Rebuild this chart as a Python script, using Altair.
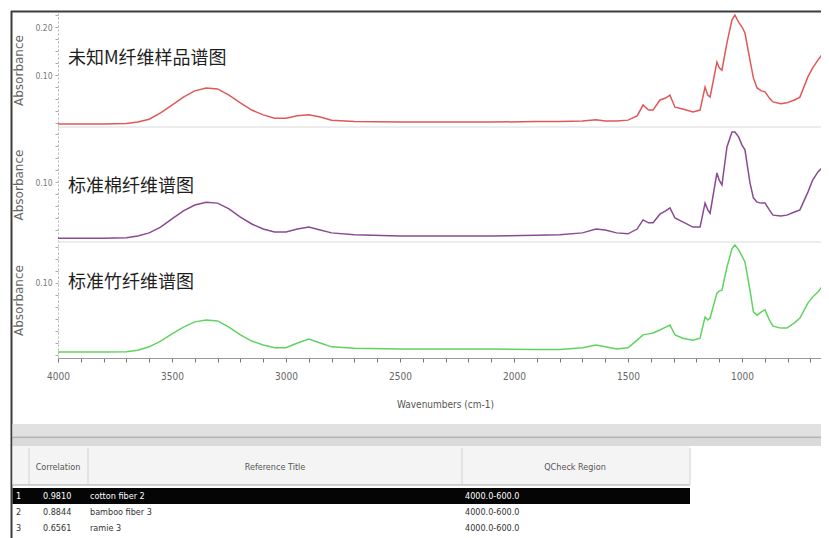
import altair as alt
import pandas as pd

# ---------------- data ----------------
wavenumber = [4000, 3800, 3700, 3650, 3600, 3550, 3500, 3450, 3400, 3350,
              3300, 3250, 3200, 3150, 3100, 3050, 3000, 2950, 2900, 2850,
              2800, 2700, 2500, 2300, 2100, 1900, 1800, 1700, 1640, 1600,
              1550, 1500, 1460, 1434, 1410, 1390, 1360, 1335, 1316, 1294,
              1260, 1215, 1184, 1162, 1150, 1140, 1110, 1100, 1088, 1066,
              1044, 1031, 1015, 1000, 987, 965, 950, 934, 915, 899,
              880, 864, 830, 803, 770, 746, 711, 690, 667, 650,
              640, 618]

unknown_m = [-0.002, -0.002, -0.001, 0.002, 0.008, 0.021, 0.0375, 0.054, 0.067, 0.073,
             0.071, 0.058, 0.042, 0.027, 0.017, 0.010, 0.010, 0.015, 0.017, 0.0125,
             0.006, 0.003, 0.002, 0.002, 0.002, 0.003, 0.003, 0.004, 0.007, 0.004,
             0.004, 0.006, 0.015, 0.0375, 0.027, 0.027, 0.048, 0.052, 0.058, 0.033,
             0.029, 0.023, 0.027, 0.075, 0.058, 0.054, 0.127, 0.115, 0.110, 0.167,
             0.215, 0.225, 0.210, 0.200, 0.1875, 0.131, 0.094, 0.073, 0.067, 0.065,
             0.052, 0.044, 0.040, 0.042, 0.048, 0.054, 0.096, 0.115, 0.131, 0.142,
             0.148, 0.167]

cotton = [-0.017, -0.017, -0.016, -0.0125, -0.006, 0.006, 0.023, 0.040, 0.052, 0.058,
          0.056, 0.044, 0.027, 0.0125, 0.002, -0.004, -0.004, 0.002, 0.006, 0.000,
          -0.006, -0.010, -0.0125, -0.0125, -0.0125, -0.011, -0.010, -0.006, 0.002, 0.000,
          -0.006, -0.008, 0.002, 0.021, 0.015, 0.015, 0.033, 0.040, 0.046, 0.025,
          0.017, 0.006, 0.006, 0.056, 0.042, 0.035, 0.119, 0.104, 0.094, 0.173,
          0.204, 0.204, 0.194, 0.177, 0.167, 0.098, 0.067, 0.058, 0.056, 0.056,
          0.042, 0.031, 0.029, 0.031, 0.0375, 0.042, 0.079, 0.104, 0.121, 0.129,
          0.135, 0.146]

bamboo = [-0.044, -0.044, -0.043, -0.040, -0.033, -0.021, -0.006, 0.008, 0.019, 0.023,
          0.021, 0.008, -0.008, -0.021, -0.029, -0.035, -0.035, -0.025, -0.017, -0.025,
          -0.033, -0.036, -0.0375, -0.0375, -0.0375, -0.0385, -0.0385, -0.035, -0.029, -0.033,
          -0.0375, -0.035, -0.019, -0.008, -0.006, -0.004, 0.002, 0.008, 0.0125, -0.008,
          -0.015, -0.019, -0.015, 0.029, 0.023, 0.027, 0.079, 0.083, 0.085, 0.133,
          0.171, 0.179, 0.169, 0.156, 0.144, 0.085, 0.040, 0.033, 0.040, 0.044,
          0.023, 0.010, 0.006, 0.006, 0.017, 0.027, 0.058, 0.071, 0.081, 0.092,
          0.100, 0.1125]

panel_titles = ["未知M纤维样品谱图", "标准棉纤维谱图", "标准竹纤维谱图"]
y_title = "Absorbance"
x_title = "Wavenumbers (cm-1)"
x_tick_values = list(range(4000, 599, -100))
y_tick_values = [
    [0.0, 0.025, 0.05, 0.075, 0.1, 0.125, 0.15, 0.175, 0.2, 0.225],
    [0.0, 0.025, 0.05, 0.075, 0.1, 0.125, 0.15, 0.175, 0.2],
    [-0.05, -0.025, 0.0, 0.025, 0.05, 0.075, 0.1, 0.125, 0.15, 0.175],
]
y_labelled = [[0.1, 0.2], [0.1], [0.1]]

table_columns = ["Correlation", "Reference Title", "QCheck Region"]
hit_rank = [1, 2, 3]
hit_corr = ["0.9810", "0.8844", "0.6561"]
hit_title = ["cotton fiber 2", "bamboo fiber 3", "ramie 3"]
hit_region = ["4000.0-600.0", "4000.0-600.0", "4000.0-600.0"]

# ---------------- layout / style ----------------
W, H = 813, 530
NARROW = "'Liberation Sans Narrow', 'DejaVu Sans Condensed', 'Arial Narrow', sans-serif"
CJK = "'Noto Sans CJK SC', sans-serif"
line_colors = ["#e05858", "#8a4a92", "#5fd35f"]
panel_px = [(5, 119), (119, 234), (234, 350)]           # top, bottom of each pane
panel_domain = [(-0.0083, 0.2292), (-0.025, 0.2146), (-0.05625, 0.1854)]
title_px = [51, 179, 275]
one = pd.DataFrame({"k": [0]})

x_enc = alt.X(
    "wn:Q",
    scale=alt.Scale(domain=[4000, 600], range=[50, 825.2], nice=False, zero=False),
    axis=alt.Axis(
        orient="bottom", offset=-(H - 350), values=x_tick_values,
        labelExpr="datum.value % 500 == 0 ? format(datum.value, 'd') : ''",
        labelOverlap=False, labelFlush=False,
        tickSize=4, tickColor="#777", domainColor="#999",
        labelColor="#666", labelFont=NARROW, labelFontSize=10, labelPadding=9,
        grid=False, title=x_title, titleFont=NARROW, titleFontSize=10,
        titleFontWeight="normal", titleColor="#555", titleX=437, titleY=41,
    ),
)


def rule(x1, x2, y1, y2, color, w=1.0):
    return alt.Chart(one).mark_rule(color=color, strokeWidth=w).encode(
        x=alt.value(x1), x2=alt.value(x2), y=alt.value(y1), y2=alt.value(y2))


def box(x1, x2, y1, y2, fill):
    return alt.Chart(one).mark_rect(color=fill).encode(
        x=alt.value(x1), x2=alt.value(x2), y=alt.value(y1), y2=alt.value(y2))


layers = []

# window frame and pane separators
layers.append(rule(3, W, 3.5, 3.5, "#3c3c3c", 2))
layers.append(rule(3.5, 3.5, 3, H, "#3c3c3c", 2))
layers.append(rule(50, W, 119, 119, "#dadada", 1))
layers.append(rule(50, W, 234, 234, "#dadada", 1))

# spectra panes
for i, series in enumerate([unknown_m, cotton, bamboo]):
    top, bottom = panel_px[i]
    lo, hi = panel_domain[i]
    df = pd.DataFrame({"wn": wavenumber, "a": series})
    test = " || ".join(f"abs(datum.value - {v}) < 0.001" for v in y_labelled[i])
    y_enc = alt.Y(
        "a:Q",
        scale=alt.Scale(domain=[lo, hi], range=[bottom, top], nice=False, zero=False),
        axis=alt.Axis(
            orient="left", offset=-50, values=y_tick_values[i],
            labelExpr=f"({test}) ? format(datum.value, '.2f') : ''",
            labelOverlap=False, labelFlush=False,
            tickSize=3, tickColor="#aaa", domainColor="#b8b8b8", domainDash=[2, 2],
            labelColor="#777", labelFont=NARROW, labelFontSize=8.5, labelPadding=3,
            grid=False, title=y_title, titleAngle=270, titleX=-40,
            titleY=(top + bottom) / 2, titleAlign="center", titleBaseline="middle",
            titleFont="DejaVu Sans", titleFontSize=12, titleFontWeight="normal",
            titleColor="#666",
        ),
    )
    layers.append(alt.Chart(df).mark_line(color=line_colors[i], strokeWidth=1.5, clip=True).encode(x=x_enc, y=y_enc))
    layers.append(
        alt.Chart(pd.DataFrame({"t": [panel_titles[i]]})).mark_text(
            align="left", baseline="middle", font=CJK, fontSize=18, color="#1e1e1e"
        ).encode(x=alt.value(60), y=alt.value(title_px[i]), text="t:N")
    )

# splitter bar between spectrum window and result table
layers.append(box(4.5, W, 416, 429, "#e1e1e1"))
layers.append(rule(4.5, W, 429.5, 429.5, "#b4b4b4", 2))
layers.append(box(4.5, W, 431, 438, "#dadada"))

# table header
layers.append(box(4.5, 682, 438, 477, "#f4f4f4"))
layers.append(rule(4.5, 682, 477, 477, "#a8a8a8", 1))
for xv in [21, 80, 454, 682]:
    layers.append(rule(xv, xv, 440, 477, "#d2d2d2", 1))
header_x = [50, 267, 567]
for xv, name in zip(header_x, table_columns):
    layers.append(
        alt.Chart(pd.DataFrame({"t": [name]})).mark_text(
            align="center", baseline="middle", font=NARROW, fontSize=9, color="#555"
        ).encode(x=alt.value(xv), y=alt.value(459), text="t:N")
    )

# table rows
hits = pd.DataFrame({"rank": hit_rank, "corr": hit_corr, "title": hit_title, "region": hit_region})
row_y = alt.Y("rank:O", scale=alt.Scale(domain=hit_rank, range=[480, 528], paddingInner=0, paddingOuter=0), axis=None)
layers.append(
    alt.Chart(hits).transform_filter("datum.rank == 1").mark_rect(color="#050505").encode(
        y=row_y, x=alt.value(4.5), x2=alt.value(682))
)
row_color = alt.condition("datum.rank == 1", alt.value("#ffffff"), alt.value("#333333"))
for field, xv in [("rank", 8), ("corr", 35), ("title", 82), ("region", 457)]:
    layers.append(
        alt.Chart(hits).mark_text(align="left", baseline="middle", font=NARROW, fontSize=9).encode(
            x=alt.value(xv), y=row_y, text=f"{field}:N", color=row_color)
    )

chart = (
    alt.layer(*layers)
    .resolve_scale(y="independent")
    .resolve_axis(y="independent")
    .properties(width=W, height=H, padding=0, background="white",
                autosize=alt.AutoSizeParams(type="none"))
    .configure_view(stroke=None)
)

chart.save("out.html", embed_options={"renderer": "svg", "actions": False})
